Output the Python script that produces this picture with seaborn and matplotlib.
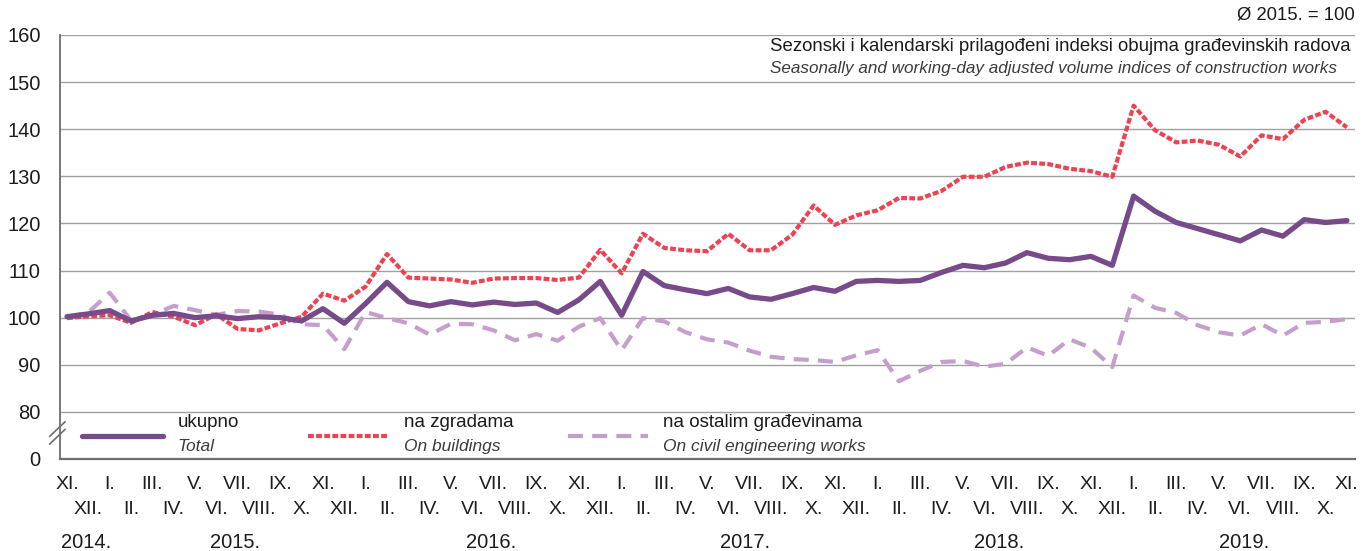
import matplotlib
matplotlib.use("Agg")
import matplotlib.pyplot as plt
import matplotlib.transforms as mtransforms
from matplotlib.legend import Legend
import pandas as pd
import seaborn as sns

months = ["XI.", "XII."] + ["I.", "II.", "III.", "IV.", "V.", "VI.", "VII.", "VIII.",
                            "IX.", "X.", "XI.", "XII."] * 4 + \
         ["I.", "II.", "III.", "IV.", "V.", "VI.", "VII.", "VIII.", "IX.", "X.", "XI."]
years = ["2014.", "2015.", "2016.", "2017.", "2018.", "2019."]
year_pos = [0.9, 7.9, 19.9, 31.8, 43.7, 55.2]

total = [100.2, 100.8, 101.5, 99.3, 100.5, 100.9, 100.0, 100.4, 99.8, 100.2,
         100.0, 99.3, 101.9, 98.8, 103.0, 107.5, 103.4, 102.5, 103.4, 102.7,
         103.3, 102.8, 103.1, 101.1, 103.8, 107.7, 100.5, 109.8, 106.8, 105.9,
         105.1, 106.2, 104.4, 103.9, 105.1, 106.4, 105.6, 107.7, 107.9, 107.7,
         107.9, 109.6, 111.1, 110.6, 111.6, 113.8, 112.6, 112.3, 113.0, 111.1,
         125.8, 122.6, 120.2, 118.9, 117.6, 116.3, 118.6, 117.3, 120.8, 120.2,
         120.6]
buildings = [99.9, 100.3, 100.5, 98.9, 101.2, 100.2, 98.4, 100.7, 97.6, 97.3,
             98.8, 100.2, 105.1, 103.6, 106.6, 113.5, 108.5, 108.3, 108.1, 107.4,
             108.3, 108.4, 108.4, 108.0, 108.5, 114.4, 109.4, 117.8, 114.8, 114.3,
             114.1, 117.8, 114.3, 114.3, 117.6, 123.8, 119.7, 121.7, 122.8, 125.4,
             125.3, 126.9, 129.9, 129.9, 132.0, 132.9, 132.6, 131.6, 131.1, 129.9,
             145.0, 139.8, 137.2, 137.6, 136.7, 134.2, 138.7, 137.9, 142.0, 143.7,
             140.4]
civil = [100.1, 101.1, 105.3, 99.4, 100.6, 102.5, 101.6, 100.6, 101.4, 101.3,
         100.6, 98.6, 98.4, 93.3, 101.2, 99.9, 98.8, 96.4, 98.7, 98.6,
         97.3, 95.2, 96.5, 95.1, 98.1, 99.9, 93.1, 99.9, 99.2, 96.9,
         95.4, 94.7, 93.0, 91.7, 91.2, 91.0, 90.6, 92.0, 93.1, 86.5,
         88.7, 90.6, 90.8, 89.6, 90.2, 93.7, 91.9, 95.4, 93.6, 89.5,
         104.7, 102.1, 101.0, 98.4, 96.9, 96.2, 98.6, 96.2, 98.9, 99.1,
         99.7]

labels_hr = ["ukupno", "na zgradama", "na ostalim građevinama"]
labels_en = ["Total", "On buildings", "On civil engineering works"]

df = pd.DataFrame({"idx": range(len(months)), "total": total,
                   "buildings": buildings, "civil": civil})

sns.set_style("white")
plt.rcParams["font.family"] = ["Liberation Sans", "DejaVu Sans"]
plt.rcParams["text.color"] = "#1e1b1c"
TXT = "#1e1b1c"
GREY_TXT = "#3c3c3c"

fig, ax = plt.subplots(figsize=(13.69, 5.51), dpi=100)
fig.subplots_adjust(left=0.0438, right=0.9898, top=0.9365, bottom=0.167)

c_total, c_build, c_civil = "#774a8a", "#ec4252", "#c49fcb"
sns.lineplot(data=df, x="idx", y="civil", ax=ax, color=c_civil, lw=3.0,
             linestyle=(0, (3.6, 2.2)))
sns.lineplot(data=df, x="idx", y="buildings", ax=ax, color=c_build, lw=3.0,
             linestyle=(0, (1.4, 0.55)))
sns.lineplot(data=df, x="idx", y="total", ax=ax, color=c_total, lw=3.8,
             solid_capstyle="round")
for ln in ax.lines:
    ln.set_dash_capstyle("butt")

ax.set_xlim(-0.33, 60.38)
ax.set_ylim(70, 160)
ax.set_yticks(range(70, 161, 10))
ax.set_yticklabels(["0"] + [str(v) for v in range(80, 161, 10)])

# month labels in two staggered rows
idx = list(range(len(months)))
ax.set_xticks(idx[0::2])
ax.set_xticklabels(months[0::2])
ax.set_xticks(idx[1::2], minor=True)
ax.set_xticklabels(months[1::2], minor=True)
ax.tick_params(axis="x", which="major", length=0, pad=12.5, labelsize=14, colors=TXT)
ax.tick_params(axis="x", which="minor", length=0, pad=30.5, labelsize=14, colors=TXT)
ax.tick_params(axis="y", length=0, pad=14, labelsize=14.5, colors=TXT)
ax.set_xlabel("")
ax.set_ylabel("")

ax.yaxis.grid(True, color="#a0a0a0", lw=1.0)
ax.set_axisbelow(True)
for s in ["top", "right"]:
    ax.spines[s].set_visible(False)
ax.spines["bottom"].set_color("#6d6d6d")
ax.spines["bottom"].set_linewidth(1.6)
ax.spines["left"].set_color("#6d6d6d")
ax.spines["left"].set_linewidth(1.3)

# axis break mark
for dy in (0.0, 0.018):
    ax.plot([-0.008, 0.004], [0.035 + dy, 0.07 + dy], transform=ax.transAxes,
            color="#6d6d6d", lw=1.2, clip_on=False)

trans = mtransforms.blended_transform_factory(ax.transData, ax.transAxes)
for pos, yr in zip(year_pos, years):
    ax.text(pos, -0.197, yr, transform=trans, ha="center", va="center",
            fontsize=14.5)

ax.text(0.5483, 0.972, "Sezonski i kalendarski prilagođeni indeksi obujma građevinskih radova",
        transform=ax.transAxes, ha="left", va="center", fontsize=13.4)
ax.text(0.5483, 0.92, "Seasonally and working-day adjusted volume indices of construction works",
        transform=ax.transAxes, ha="left", va="center", fontsize=12.3,
        style="italic", color=GREY_TXT)
ax.text(1.0, 1.047, "Ø 2015. = 100", transform=ax.transAxes, ha="right",
        va="center", fontsize=13.3)

# legend: handles only, texts placed next to each sample
handles = [ax.lines[2], ax.lines[1], ax.lines[0]]
legs = []
for h, x0 in zip(handles, [0.017, 0.1915, 0.392]):
    leg = Legend(ax, [h], [""], loc="center left", bbox_to_anchor=(x0, 0.05),
                 frameon=False, handlelength=4.3, handletextpad=0,
                 borderpad=0, borderaxespad=0, fontsize=13.5)
    ax.add_artist(leg)
    legs.append(leg)

fig.canvas.draw()
renderer = fig.canvas.get_renderer()
inv = fig.transFigure.inverted()
for leg, hr, en in zip(legs, labels_hr, labels_en):
    bb = leg.get_lines()[0].get_window_extent(renderer)
    fx, fy = inv.transform((bb.x1 + 15, (bb.y0 + bb.y1) / 2))
    fig.text(fx, fy + 0.024, hr, ha="left", va="center", fontsize=13.5)
    fig.text(fx, fy - 0.02, en, ha="left", va="center", fontsize=12.5,
             style="italic", color=GREY_TXT)

fig.savefig("out.png", dpi=100)
